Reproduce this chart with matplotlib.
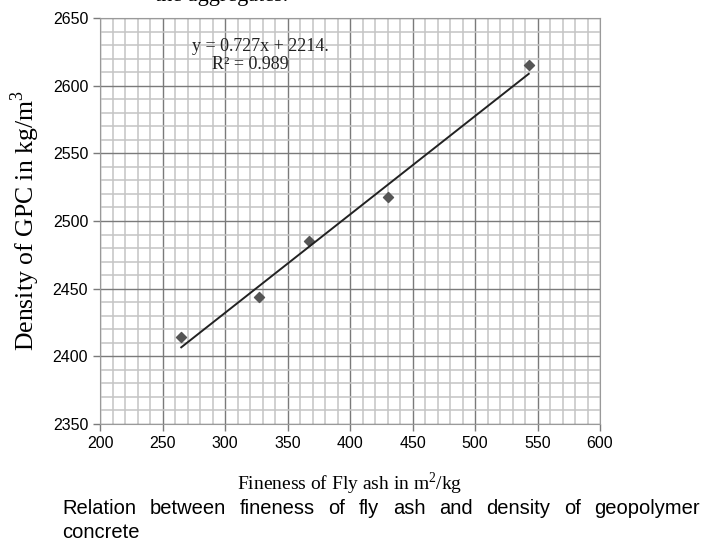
import matplotlib.pyplot as plt
import numpy as np
from matplotlib.ticker import MultipleLocator

# dados
fineness = [265, 327, 367, 430, 543]
density = [2414, 2444, 2485, 2518, 2615]
slope = 0.727
intercept = 2214
r2 = 0.989

xticks = [200, 250, 300, 350, 400, 450, 500, 550, 600]
yticks = [2350, 2400, 2450, 2500, 2550, 2600, 2650]

SERIF = "Liberation Serif"
SANS = ["Liberation Sans", "DejaVu Sans"]
plt.rcParams["mathtext.fontset"] = "custom"
plt.rcParams["mathtext.rm"] = SERIF

fig = plt.figure(figsize=(7.07, 5.42), dpi=100)
ax = fig.add_axes([100 / 707, 118 / 542, 500 / 707, 406 / 542])

# grade fina e grade principal
ax.xaxis.set_minor_locator(MultipleLocator(10))
ax.yaxis.set_minor_locator(MultipleLocator(10))
ax.grid(which="minor", color="#c4c4c4", linewidth=1.1)
ax.grid(which="major", color="#7a7a7a", linewidth=1.0)
ax.set_axisbelow(True)
ax.tick_params(which="minor", length=0)
ax.tick_params(which="major", length=5, color="#7a7a7a", width=1.0,
	labelsize=11.5)
for s in ax.spines.values():
	s.set_color("#9a9a9a")

ax.set_xlim(200, 600)
ax.set_ylim(2350, 2650)
ax.set_xticks(xticks)
ax.set_yticks(yticks)
for lab in ax.get_xticklabels() + ax.get_yticklabels():
	lab.set_family(SANS)

# pontos e linha de tendencia
ax.scatter(fineness, density, marker="D", s=26, color="#555555", zorder=3)
xf = np.array([min(fineness), max(fineness)])
ax.plot(xf, slope * xf + intercept, color="#222222", linewidth=1.4, zorder=3)

ax.text(328, 2629, "y = %.3fx + %d." % (slope, intercept), family=SERIF,
	fontsize=13, ha="center", va="center", color="#222222")
ax.text(320, 2615.5, "R² = %.3f" % r2, family=SERIF,
	fontsize=13, ha="center", va="center", color="#222222")

ax.set_xlabel("Fineness of Fly ash in m$^2$/kg", family=SERIF, fontsize=14,
	labelpad=14)
ax.set_ylabel("Density of GPC in kg/m$^3$", family=SERIF, fontsize=18.5,
	labelpad=8)

# texto cortado no topo
fig.text(155 / 707, 1.0 + 4 / 542, "the aggregates.", family=SERIF,
	fontsize=16, va="center")

# legenda justificada
words = "Relation between fineness of fly ash and density of geopolymer".split()
fig.canvas.draw()
r = fig.canvas.get_renderer()
arts = [fig.text(0, 0, w, family=SANS, fontsize=14.5) for w in words]
widths = [a.get_window_extent(r).width for a in arts]
x0, x1 = 62, 700
gap = (x1 - x0 - sum(widths)) / (len(words) - 1)
x = x0
for a, w in zip(arts, widths):
	a.set_position((x / 707, 1 - 508 / 542))
	a.set_va("center")
	x += w + gap
fig.text(x0 / 707, 1 - 532 / 542, "concrete", family=SANS, fontsize=14.5,
	va="center")

fig.savefig("out.png", dpi=100)
